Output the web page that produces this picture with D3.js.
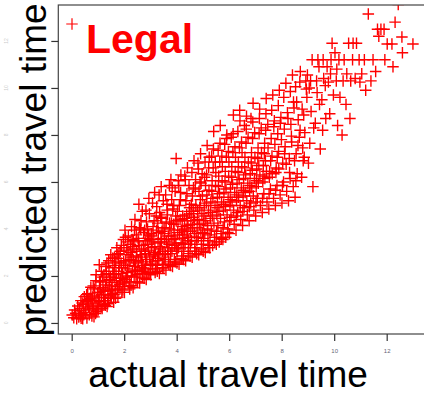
<!DOCTYPE html>
<html>
<head>
<meta charset="utf-8">
<script src="https://cdn.jsdelivr.net/npm/d3@7"></script>
<style>
  body { margin: 0; background: #fff; }
</style>
</head>
<body>
<div id="chart"></div>
<script>
// actual vs predicted travel time per line
const actualTime = [
  0.02, 0.08, 0.11, 0.15, 0.19, 0.23,
  0.27, 0.31, 0.35, 0.38, 0.42, 0.45, 0.48, 0.33,
  0.52, 0.55, 0.58, 0.61, 0.64, 0.67, 0.70, 0.73, 0.60,
  0.77, 0.80, 0.83, 0.86, 0.89, 0.92, 0.95, 0.98, 0.85, 0.93,
  1.01, 1.04, 1.07, 1.10, 1.13, 1.16, 1.19, 1.22, 1.05, 1.14, 1.24,
  1.26, 1.29, 1.32, 1.35, 1.38, 1.41, 1.44, 1.47, 1.30, 1.37, 1.43, 1.49,
  1.51, 1.54, 1.57, 1.60, 1.63, 1.66, 1.69, 1.72, 1.55, 1.62, 1.68, 1.74,
  1.76, 1.79, 1.82, 1.85, 1.88, 1.91, 1.94, 1.97, 1.78, 1.84, 1.90, 1.96, 1.99,
  2.01, 2.04, 2.07, 2.10, 2.13, 2.16, 2.19, 2.22, 2.03, 2.09, 2.15, 2.21, 2.24, 2.12,
  2.26, 2.29, 2.32, 2.35, 2.38, 2.41, 2.44, 2.47, 2.28, 2.34, 2.40, 2.46, 2.49, 2.37,
  2.51, 2.54, 2.57, 2.60, 2.63, 2.66, 2.69, 2.72, 2.53, 2.59, 2.65, 2.71, 2.74, 2.56, 2.68,
  2.76, 2.79, 2.82, 2.85, 2.88, 2.91, 2.94, 2.97, 2.78, 2.84, 2.90, 2.96, 2.99, 2.81, 2.93,
  3.01, 3.04, 3.07, 3.10, 3.13, 3.16, 3.19, 3.22, 3.03, 3.09, 3.15, 3.21, 3.24, 3.06, 3.18,
  3.26, 3.29, 3.32, 3.35, 3.38, 3.41, 3.44, 3.47, 3.28, 3.34, 3.40, 3.46, 3.49, 3.31, 3.43,
  3.51, 3.54, 3.57, 3.60, 3.63, 3.66, 3.69, 3.72, 3.53, 3.59, 3.65, 3.71, 3.74, 3.56, 3.68,
  3.76, 3.79, 3.82, 3.85, 3.88, 3.91, 3.94, 3.97, 3.78, 3.84, 3.90, 3.96, 3.99, 3.81, 3.93, 3.98,
  4.01, 4.04, 4.07, 4.10, 4.13, 4.16, 4.19, 4.22, 4.03, 4.09, 4.15, 4.21, 4.24, 4.06, 4.18,
  4.26, 4.29, 4.32, 4.35, 4.38, 4.41, 4.44, 4.47, 4.28, 4.34, 4.40, 4.46, 4.49, 4.31, 4.43,
  4.51, 4.54, 4.57, 4.60, 4.63, 4.66, 4.69, 4.72, 4.53, 4.59, 4.65, 4.71, 4.74, 4.56, 4.68,
  4.76, 4.79, 4.82, 4.85, 4.88, 4.91, 4.94, 4.97, 4.78, 4.84, 4.90, 4.96, 4.99, 4.81, 4.93,
  5.01, 5.04, 5.07, 5.10, 5.13, 5.16, 5.19, 5.22, 5.03, 5.09, 5.15, 5.21, 5.24, 5.06, 5.18,
  5.26, 5.29, 5.32, 5.35, 5.38, 5.41, 5.44, 5.47, 5.28, 5.34, 5.40, 5.46, 5.49, 5.37,
  5.51, 5.54, 5.57, 5.60, 5.63, 5.66, 5.69, 5.72, 5.53, 5.59, 5.65, 5.71, 5.74, 5.62,
  5.76, 5.79, 5.82, 5.85, 5.88, 5.91, 5.94, 5.97, 5.78, 5.84, 5.90, 5.96, 5.99, 5.87,
  6.01, 6.04, 6.07, 6.10, 6.13, 6.16, 6.19, 6.22, 6.03, 6.09, 6.15, 6.21, 6.24,
  6.26, 6.29, 6.32, 6.35, 6.38, 6.41, 6.44, 6.47, 6.28, 6.34, 6.40, 6.46, 6.49,
  6.51, 6.54, 6.57, 6.60, 6.63, 6.66, 6.69, 6.72, 6.53, 6.59, 6.65, 6.71,
  6.76, 6.79, 6.82, 6.85, 6.88, 6.91, 6.94, 6.97, 6.78, 6.84, 6.90, 6.96,
  7.01, 7.04, 7.07, 7.10, 7.13, 7.16, 7.19, 7.22, 7.03, 7.09, 7.15,
  7.26, 7.29, 7.32, 7.35, 7.38, 7.41, 7.44, 7.47, 7.28, 7.34, 7.40,
  7.51, 7.54, 7.57, 7.60, 7.63, 7.66, 7.69, 7.72, 7.53, 7.62,
  7.76, 7.79, 7.82, 7.85, 7.88, 7.91, 7.94, 7.97, 7.78, 7.87,
  8.01, 8.04, 8.07, 8.10, 8.13, 8.16, 8.19, 8.22, 8.08,
  8.26, 8.29, 8.32, 8.35, 8.38, 8.41, 8.44, 8.47, 8.33,
  8.51, 8.55, 8.59, 8.63, 8.67, 8.71, 8.57, 8.69, 8.53,
  8.76, 8.80, 8.84, 8.88, 8.92, 8.96, 8.82, 8.98,
  9.02, 9.07, 9.12, 9.16, 9.22, 9.10, 9.19, 9.05,
  9.28, 9.33, 9.38, 9.44, 9.47, 9.35, 9.42,
  9.53, 9.58, 9.60, 9.68, 9.73, 9.56, 9.66,
  9.78, 9.83, 9.88, 9.92, 9.97, 9.86,
  10.03, 10.08, 10.13, 10.18, 10.22, 10.10,
  10.30, 10.34, 10.38, 10.45, 10.48,
  10.55, 10.60, 10.63, 10.70, 10.72,
  10.80, 10.85, 10.95, 10.98,
  11.05, 11.15, 11.20, 11.30, 11.40, 11.48,
  11.58, 11.65, 11.70, 11.78, 11.90, 11.93,
  12.02, 12.20, 12.24, 12.32, 12.44, 12.58,
  12.60, 13.00,
  // second pass over the dense band
  0.29, 0.40, 0.46, 0.36,
  0.54, 0.63, 0.69, 0.74, 0.57,
  0.79, 0.88, 0.96, 0.82, 0.99, 0.91,
  1.03, 1.09, 1.12, 1.18, 1.21, 1.23, 1.06,
  1.27, 1.33, 1.39, 1.42, 1.46, 1.48, 1.34, 1.28,
  1.52, 1.58, 1.61, 1.64, 1.70, 1.73, 1.56, 1.67,
  1.77, 1.81, 1.86, 1.89, 1.93, 1.98, 1.80, 1.95,
  2.02, 2.06, 2.11, 2.14, 2.18, 2.23, 2.05, 2.20,
  2.27, 2.31, 2.36, 2.39, 2.43, 2.48, 2.30, 2.45,
  2.52, 2.55, 2.61, 2.64, 2.67, 2.73, 2.58, 2.70,
  2.77, 2.80, 2.86, 2.89, 2.92, 2.98, 2.83, 2.95,
  3.02, 3.05, 3.11, 3.14, 3.17, 3.23, 3.08, 3.20,
  3.27, 3.30, 3.36, 3.39, 3.42, 3.48, 3.33, 3.45,
  3.52, 3.55, 3.61, 3.64, 3.67, 3.73, 3.58, 3.70,
  3.77, 3.80, 3.86, 3.89, 3.92, 3.98, 3.83, 3.95,
  4.02, 4.05, 4.11, 4.14, 4.17, 4.23, 4.08, 4.20,
  4.27, 4.30, 4.36, 4.39, 4.42, 4.48, 4.33, 4.45,
  4.52, 4.55, 4.61, 4.64, 4.67, 4.73, 4.58, 4.70,
  4.77, 4.80, 4.86, 4.89, 4.92, 4.98, 4.83, 4.95,
  5.02, 5.05, 5.11, 5.14, 5.17, 5.23, 5.08, 5.20,
  5.27, 5.30, 5.36, 5.39, 5.42, 5.48, 5.33, 5.45,
  5.52, 5.55, 5.61, 5.64, 5.67, 5.73, 5.58, 5.70,
  5.77, 5.80, 5.86, 5.89, 5.92, 5.98, 5.83, 5.95,
  6.02, 6.05, 6.11, 6.14, 6.17, 6.23, 6.08,
  6.27, 6.30, 6.36, 6.39, 6.42, 6.48, 6.33,
  6.52, 6.55, 6.61, 6.64, 6.67, 6.73, 6.58,
  6.77, 6.80, 6.86, 6.89, 6.92, 6.98, 6.83,
  7.02, 7.05, 7.11, 7.14, 7.17, 7.23,
  7.27, 7.30, 7.36, 7.39, 7.42, 7.48,
  7.52, 7.58, 7.64, 7.70, 7.74,
  7.77, 7.83, 7.89, 7.95, 7.99,
  8.03, 8.11, 8.17, 8.24, 8.30, 8.37, 8.45, 8.49,
  8.54, 8.62, 8.70, 8.78, 8.86, 8.94
];

const predictedTime = [
  0.34, 0.22, 0.55, 0.41, 0.18, 0.72,
  0.25, 0.62, 0.95, 0.40, 0.18, 0.78, 1.12, 0.30,
  0.45, 0.92, 0.21, 1.25, 0.68, 0.35, 1.05, 1.52, 0.80,
  0.30, 1.10, 0.62, 1.45, 0.85, 1.80, 0.48, 1.28, 0.26, 2.05,
  0.55, 1.30, 0.90, 1.75, 2.20, 0.62, 1.50, 1.08, 2.48, 1.20, 0.78,
  0.95, 1.62, 2.10, 0.70, 1.38, 2.65, 1.85, 1.15, 2.40, 0.82, 1.58, 2.90,
  1.05, 1.72, 2.35, 0.88, 2.80, 1.40, 2.05, 3.20, 1.25, 1.95, 2.60, 1.55,
  1.10, 2.20, 1.65, 3.05, 2.55, 1.30, 1.90, 3.55, 2.75, 1.45, 2.35, 1.75, 3.20,
  1.30, 2.45, 1.85, 3.10, 2.15, 3.70, 1.55, 2.70, 3.95, 2.00, 2.90, 1.45, 3.35, 2.30,
  1.60, 2.80, 2.20, 3.50, 1.95, 4.40, 2.55, 3.05, 4.10, 1.50, 2.40, 3.75, 2.05, 3.25,
  1.75, 2.65, 3.30, 2.10, 4.00, 2.90, 4.75, 2.45, 3.60, 1.70, 3.15, 2.20, 3.85, 5.05, 2.60,
  1.90, 3.05, 2.45, 4.30, 3.60, 2.15, 5.30, 2.80, 3.95, 1.85, 3.35, 4.65, 2.50, 2.95, 3.75,
  2.05, 3.20, 2.60, 4.10, 3.55, 5.55, 2.90, 4.55, 3.80, 2.30, 3.00, 2.45, 4.95, 3.45, 2.15,
  2.20, 3.40, 2.75, 4.70, 3.15, 5.80, 3.90, 2.50, 4.25, 2.10, 3.60, 3.05, 5.20, 2.95, 4.45,
  2.35, 3.55, 2.90, 4.30, 5.05, 3.20, 2.60, 5.85, 3.80, 2.25, 4.60, 3.35, 4.00, 2.70, 3.70,
  2.45, 3.70, 3.05, 4.85, 4.20, 2.70, 5.60, 3.40, 6.10, 2.40, 3.95, 4.55, 3.15, 5.25, 3.60, 7.00,
  2.55, 3.85, 3.20, 5.00, 4.40, 6.30, 2.85, 3.60, 4.75, 2.50, 5.55, 4.10, 3.35, 6.05, 3.95,
  2.70, 4.00, 3.35, 5.20, 4.60, 6.60, 3.05, 5.85, 3.75, 2.65, 4.35, 3.50, 4.90, 6.25, 4.15,
  2.85, 4.20, 3.50, 5.40, 4.75, 6.90, 3.20, 6.10, 3.90, 2.80, 4.50, 5.70, 3.65, 5.05, 4.35,
  2.95, 4.40, 3.65, 5.60, 4.90, 7.20, 3.35, 6.35, 4.05, 2.90, 5.25, 4.65, 3.85, 6.80, 5.95,
  3.05, 4.55, 3.80, 5.85, 5.10, 7.55, 3.50, 6.60, 4.25, 3.00, 5.45, 4.80, 7.05, 6.20, 4.00,
  3.20, 4.70, 3.95, 6.05, 5.30, 8.15, 3.65, 6.85, 4.45, 5.60, 7.40, 5.00, 6.40, 3.30,
  3.35, 4.90, 4.15, 6.25, 5.50, 8.40, 3.80, 7.10, 4.60, 5.80, 7.65, 5.15, 6.65, 3.45,
  3.55, 5.05, 4.30, 6.45, 5.70, 8.00, 4.00, 7.30, 4.80, 6.00, 7.85, 5.35, 6.85, 3.65,
  3.80, 5.25, 4.50, 6.65, 5.90, 8.85, 4.20, 7.50, 5.00, 6.20, 8.05, 5.55, 7.05,
  3.95, 5.45, 4.70, 6.85, 6.10, 8.60, 4.40, 7.70, 5.20, 6.40, 9.05, 5.75, 7.25,
  4.15, 5.65, 4.90, 7.05, 6.30, 8.80, 4.60, 7.90, 5.40, 6.60, 8.25, 5.95,
  4.35, 5.85, 5.10, 7.25, 6.50, 9.35, 4.80, 8.10, 5.60, 6.80, 8.55, 6.15,
  4.55, 6.05, 5.30, 7.45, 6.70, 9.10, 5.00, 8.30, 5.80, 7.00, 8.70,
  4.70, 6.25, 5.50, 7.65, 6.90, 9.55, 5.15, 8.45, 6.00, 7.20, 8.90,
  4.85, 6.45, 5.70, 7.85, 7.10, 9.70, 5.30, 8.60, 6.20, 9.05,
  5.00, 6.60, 5.85, 8.05, 7.30, 9.90, 5.45, 8.75, 6.40, 9.25,
  5.10, 6.80, 6.00, 8.25, 7.50, 10.20, 5.60, 8.95, 9.60,
  5.20, 7.00, 6.15, 8.45, 7.70, 10.55, 5.80, 9.15, 9.85,
  5.35, 7.20, 6.35, 8.65, 7.90, 10.70, 9.40, 10.25, 10.05,
  6.20, 7.45, 8.85, 8.10, 10.30, 9.60, 6.90, 10.55,
  6.80, 7.65, 9.00, 11.20, 8.30, 10.30, 5.80, 10.00,
  8.50, 10.30, 11.20, 9.30, 7.40, 9.80, 10.90,
  9.50, 11.20, 10.40, 8.70, 10.90, 8.20, 10.10,
  10.25, 8.90, 11.20, 11.90, 9.70, 10.60,
  11.50, 10.30, 8.40, 11.20, 9.60, 10.80,
  8.00, 10.30, 11.20, 9.30, 10.60,
  11.90, 8.70, 10.30, 11.20, 11.90,
  10.40, 11.90, 11.20, 10.25,
  10.60, 11.20, 9.90, 13.15, 10.30, 11.20,
  10.70, 12.50, 12.20, 12.50, 12.50, 11.20,
  11.87, 11.87, 10.90, 12.80, 13.55, 12.17,
  11.50, 11.87,
  // second pass over the dense band
  0.52, 0.85, 0.35, 0.20,
  0.60, 1.00, 0.55, 0.95, 1.20,
  0.72, 1.15, 0.95, 1.58, 0.60, 0.40,
  0.95, 1.45, 0.70, 1.95, 1.35, 2.05, 1.75,
  1.20, 1.80, 1.05, 2.20, 1.40, 1.95, 2.55, 0.75,
  1.45, 2.10, 1.20, 2.45, 1.80, 2.90, 2.75, 1.05,
  1.55, 2.45, 1.90, 3.30, 2.10, 2.60, 2.95, 1.40,
  1.70, 2.65, 1.95, 3.45, 2.45, 3.00, 3.65, 1.75,
  2.00, 3.15, 2.65, 3.95, 2.25, 2.85, 3.55, 1.75,
  2.25, 3.45, 2.80, 4.35, 2.35, 3.30, 4.05, 1.95,
  2.30, 3.50, 2.70, 4.00, 3.10, 3.55, 4.80, 2.10,
  2.50, 3.70, 2.85, 4.35, 3.25, 3.95, 5.10, 2.30,
  2.65, 3.85, 3.25, 4.50, 3.45, 4.05, 5.45, 2.35,
  2.80, 4.05, 3.45, 4.80, 3.05, 4.25, 5.45, 2.50,
  2.95, 4.25, 3.55, 5.00, 3.30, 4.35, 5.75, 2.60,
  3.05, 4.35, 3.75, 5.25, 3.40, 4.55, 5.85, 2.75,
  3.20, 4.45, 3.90, 5.50, 3.65, 4.75, 6.10, 2.95,
  3.35, 4.65, 4.05, 5.75, 3.80, 5.00, 6.40, 3.05,
  3.50, 4.80, 4.20, 6.00, 3.95, 5.40, 6.55, 3.15,
  3.60, 5.00, 4.35, 6.30, 4.15, 5.65, 6.85, 3.30,
  3.75, 5.15, 4.55, 6.60, 4.25, 5.85, 7.10, 3.45,
  3.90, 5.35, 4.75, 6.85, 4.45, 6.05, 7.35, 3.60,
  4.05, 5.55, 4.95, 7.05, 4.60, 6.25, 7.60, 3.85,
  4.35, 5.75, 5.15, 7.25, 4.80, 6.45, 7.90,
  4.55, 5.95, 5.35, 7.45, 5.00, 6.65, 8.15,
  4.75, 6.15, 5.55, 7.65, 5.20, 6.85, 8.40,
  4.95, 6.35, 5.75, 7.85, 5.40, 7.05, 8.70,
  5.15, 6.55, 5.95, 8.05, 6.30, 7.25,
  5.30, 6.70, 6.15, 8.20, 6.45, 7.45,
  5.50, 6.90, 6.35, 8.35, 7.60,
  5.65, 7.05, 6.55, 8.50, 7.80,
  5.85, 7.20, 6.75, 8.70, 6.40, 7.95, 9.40, 6.90,
  6.05, 7.55, 8.20, 9.10, 7.05, 9.95
];

const xTicks = [0, 2, 4, 6, 8, 10, 12];
const yTicks = [0, 2, 4, 6, 8, 10, 12];
const seriesName = 'Legal';
const xTitle = 'actual travel time';
const yTitle = 'predicted travel time';

const width = 424, height = 397;
const plotLeft = 58.3, plotTop = 5, plotBottom = 334;
const xDomain = [-0.51, 13.9];
const yDomain = [-0.47, 13.53];
const unitX = 26.25; // px per unit on x
const red = '#ff0000';
const font = '"Liberation Sans", Arial, Helvetica, sans-serif';
const plusPath = 'M-5.75,0H5.75M0,-5.75V5.75';

const data = actualTime.map((a, i) => ({ actual: a, predicted: predictedTime[i] }));

const svg = d3.select('#chart')
  .append('svg')
  .attr('width', width)
  .attr('height', height)
  .style('display', 'block');

const x = d3.scaleLinear()
  .domain(xDomain)
  .range([plotLeft, plotLeft + unitX * (xDomain[1] - xDomain[0])]);

const y = d3.scaleLinear()
  .domain(yDomain)
  .range([plotBottom, plotTop]);

svg.append('clipPath')
  .attr('id', 'plot-clip')
  .append('rect')
  .attr('x', x(xDomain[0]))
  .attr('y', y(yDomain[1]))
  .attr('width', x(xDomain[1]) - x(xDomain[0]))
  .attr('height', y(yDomain[0]) - y(yDomain[1]));

// points
svg.append('g')
  .attr('clip-path', 'url(#plot-clip)')
  .selectAll('path')
  .data(data)
  .join('path')
  .attr('d', plusPath)
  .attr('transform', d => `translate(${x(d.actual)},${y(d.predicted)})`)
  .attr('fill', 'none')
  .attr('stroke', red)
  .attr('stroke-width', 1.4);

// frame
svg.append('rect')
  .attr('x', x(xDomain[0]))
  .attr('y', y(yDomain[1]))
  .attr('width', x(xDomain[1]) - x(xDomain[0]))
  .attr('height', y(yDomain[0]) - y(yDomain[1]))
  .attr('fill', 'none')
  .attr('stroke', '#444')
  .attr('stroke-width', 1.2);

// x axis
const xAxis = svg.append('g')
  .attr('transform', `translate(0,${plotBottom})`)
  .call(d3.axisBottom(x).tickValues(xTicks).tickSize(7).tickPadding(8));
xAxis.select('.domain').remove();
xAxis.selectAll('line').attr('stroke', '#333').attr('stroke-width', 1.2);
xAxis.selectAll('text')
  .attr('fill', '#667')
  .style('font-family', font)
  .style('font-size', '6px');

// y axis
const yAxis = svg.append('g')
  .attr('transform', `translate(${plotLeft},0)`)
  .call(d3.axisLeft(y).tickValues(yTicks).tickSize(7).tickFormat(''));
yAxis.select('.domain').remove();
yAxis.selectAll('line').attr('stroke', '#333').attr('stroke-width', 1.2);

svg.append('g')
  .selectAll('text')
  .data(yTicks)
  .join('text')
  .attr('transform', d => `translate(8,${y(d)}) rotate(-90)`)
  .attr('text-anchor', 'middle')
  .attr('fill', '#ccc')
  .style('font-family', font)
  .style('font-size', '5px')
  .text(d => d);

// axis titles
svg.append('text')
  .attr('x', 228)
  .attr('y', 387)
  .attr('text-anchor', 'middle')
  .style('font-family', font)
  .style('font-size', '37px')
  .attr('fill', '#000')
  .text(xTitle);

svg.append('text')
  .attr('transform', 'translate(46,170) rotate(-90)')
  .attr('text-anchor', 'middle')
  .style('font-family', font)
  .style('font-size', '37px')
  .attr('fill', '#000')
  .text(yTitle);

// legend
svg.append('path')
  .attr('d', plusPath)
  .attr('transform', 'translate(72,24)')
  .attr('fill', 'none')
  .attr('stroke', red)
  .attr('stroke-width', 1.2);

svg.append('text')
  .attr('x', 86)
  .attr('y', 53)
  .style('font-family', font)
  .style('font-size', '41px')
  .style('font-weight', 'bold')
  .attr('fill', red)
  .text(seriesName);
</script>
</body>
</html>
